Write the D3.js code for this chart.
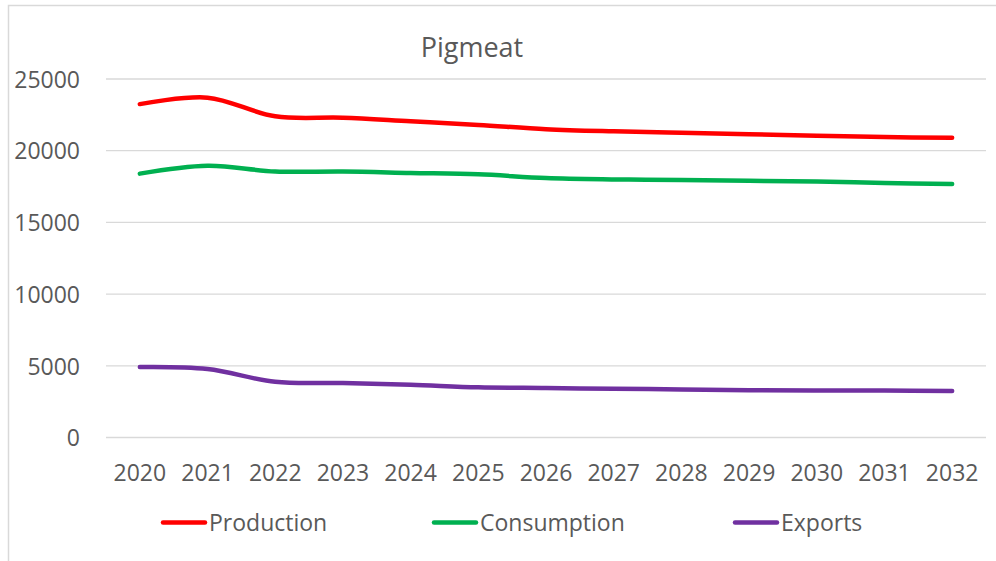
<!DOCTYPE html>
<html>
<head>
<meta charset="utf-8">
<script src="https://cdn.jsdelivr.net/npm/d3@7"></script>
<style>
  body { margin: 0; background: #fff; }
  svg text { font-family: "Open Sans", sans-serif; fill: #595959; }
</style>
</head>
<body>
<div class="graph"></div>
<script>
// years on the x axis
var years = ['2020','2021','2022','2023','2024','2025','2026','2027','2028','2029','2030','2031','2032'];

// values
var production  = [23250, 23700, 22400, 22300, 22050, 21800, 21500, 21350, 21250, 21150, 21050, 20950, 20900];
var consumption = [18400, 18950, 18550, 18550, 18450, 18350, 18100, 18000, 17950, 17900, 17850, 17750, 17680];
var exportsVals = [4920, 4780, 3880, 3800, 3680, 3500, 3450, 3400, 3350, 3300, 3280, 3270, 3240];

var seriesNames = ['Production', 'Consumption', 'Exports'];
var yTicks = [0, 5000, 10000, 15000, 20000, 25000];

var series = [
  { name: seriesNames[0], values: production,  color: '#ff0000' },
  { name: seriesNames[1], values: consumption, color: '#00b050' },
  { name: seriesNames[2], values: exportsVals, color: '#7030a0' }
];

var width = 996, height = 561;
var plot = { left: 106, right: 986, top: 79, bottom: 437.5 };

var svg = d3.select('.graph').append('svg')
    .attr('width', width)
    .attr('height', height);

// outer chart border
svg.append('rect')
    .attr('x', 8.5).attr('y', 5.5)
    .attr('width', width + 10).attr('height', height + 10)
    .attr('fill', 'none')
    .attr('stroke', '#d9d9d9')
    .attr('stroke-width', 1.5);

var x = d3.scaleBand().domain(years).range([plot.left, plot.right]).padding(0);
var y = d3.scaleLinear().domain([0, 25000]).range([plot.bottom, plot.top]);

// gridlines
svg.append('g').attr('class', 'grid')
  .selectAll('line')
  .data(yTicks)
  .enter().append('line')
    .attr('x1', plot.left).attr('x2', plot.right)
    .attr('y1', function(d) { return y(d); })
    .attr('y2', function(d) { return y(d); })
    .attr('stroke', '#d9d9d9')
    .attr('stroke-width', 1.3);

// y axis labels
var yAxis = d3.axisLeft(y).tickValues(yTicks).tickSize(0).tickPadding(0).tickFormat(d3.format('d'));
var yg = svg.append('g')
    .attr('transform', 'translate(80,0)')
    .call(yAxis);
yg.select('.domain').remove();
yg.selectAll('text')
    .attr('font-size', 23)
    .attr('font-family', '"Open Sans", sans-serif')
    .attr('dy', '0.36em')
    .style('fill', '#595959');

// x axis labels
var xAxis = d3.axisBottom(x).tickSize(0).tickPadding(0);
var xg = svg.append('g')
    .attr('transform', 'translate(0,' + 481 + ')')
    .call(xAxis);
xg.select('.domain').remove();
xg.selectAll('text')
    .attr('font-size', 23)
    .attr('font-family', '"Open Sans", sans-serif')
    .attr('dy', 0)
    .style('fill', '#595959');

// lines
var line = d3.line()
    .x(function(d, i) { return x(years[i]) + x.bandwidth() / 2; })
    .y(function(d) { return y(d); })
    .curve(d3.curveCatmullRom.alpha(0.5));

svg.selectAll('.series')
    .data(series)
    .enter().append('path')
    .attr('class', 'series')
    .attr('d', function(d) { return line(d.values); })
    .attr('fill', 'none')
    .attr('stroke', function(d) { return d.color; })
    .attr('stroke-width', 4.5)
    .attr('stroke-linecap', 'round')
    .attr('stroke-linejoin', 'round');

// title
svg.append('text')
    .attr('x', 472).attr('y', 57)
    .attr('text-anchor', 'middle')
    .attr('font-size', 27)
    .text('Pigmeat');

// legend
var legendX = [163, 434, 735];
var legend = svg.selectAll('.legend')
    .data(series)
    .enter().append('g')
    .attr('class', 'legend')
    .attr('transform', function(d, i) { return 'translate(' + legendX[i] + ',522.5)'; });

legend.append('line')
    .attr('x1', 0).attr('x2', 42)
    .attr('stroke', function(d) { return d.color; })
    .attr('stroke-width', 4.5)
    .attr('stroke-linecap', 'round');

legend.append('text')
    .attr('x', 46).attr('y', 8)
    .attr('font-size', 23)
    .text(function(d) { return d.name; });
</script>
</body>
</html>
